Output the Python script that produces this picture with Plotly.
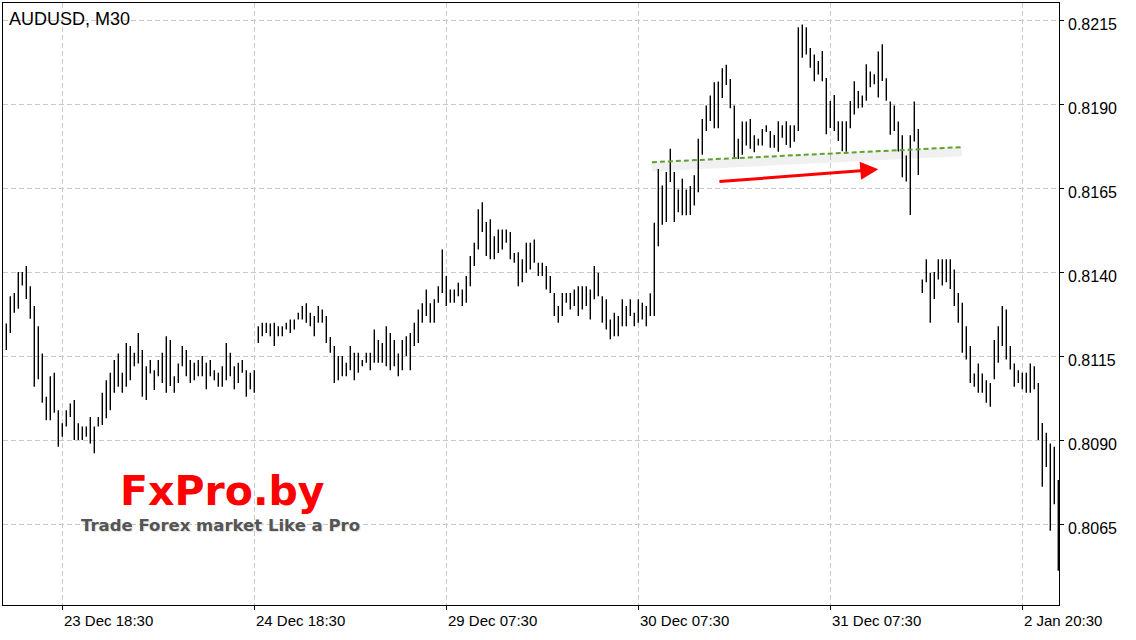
import plotly.graph_objects as go

symbol = "AUDUSD, M30"

high = [
    0.81248, 0.81329, 0.81339, 0.81401, 0.81401, 0.81419, 0.81359, 0.81300, 0.81240, 0.81159, 0.81030, 0.81091,
    0.81101, 0.80990, 0.80951, 0.80990, 0.81010, 0.81020, 0.80951, 0.80941, 0.80941, 0.80970, 0.80941, 0.80970,
    0.81042, 0.81079, 0.81101, 0.81139, 0.81159, 0.81101, 0.81190, 0.81181, 0.81161, 0.81220, 0.81169, 0.81121,
    0.81139, 0.81109, 0.81139, 0.81161, 0.81210, 0.81199, 0.81091, 0.81129, 0.81181, 0.81169, 0.81139, 0.81131,
    0.81139, 0.81151, 0.81131, 0.81139, 0.81109, 0.81101, 0.81121, 0.81190, 0.81161, 0.81121, 0.81131, 0.81139,
    0.81109, 0.81101, 0.81109, 0.81240, 0.81250, 0.81250, 0.81248, 0.81250, 0.81240, 0.81240, 0.81250, 0.81260,
    0.81260, 0.81280, 0.81300, 0.81308, 0.81280, 0.81270, 0.81300, 0.81290, 0.81270, 0.81208, 0.81181, 0.81151,
    0.81151, 0.81131, 0.81181, 0.81161, 0.81161, 0.81139, 0.81161, 0.81161, 0.81230, 0.81199, 0.81190, 0.81240,
    0.81220, 0.81199, 0.81159, 0.81199, 0.81210, 0.81220, 0.81250, 0.81290, 0.81308, 0.81349, 0.81308, 0.81320,
    0.81359, 0.81468, 0.81389, 0.81349, 0.81349, 0.81369, 0.81349, 0.81389, 0.81449, 0.81488, 0.81588, 0.81609,
    0.81550, 0.81558, 0.81508, 0.81528, 0.81528, 0.81528, 0.81520, 0.81458, 0.81460, 0.81439, 0.81488, 0.81488,
    0.81498, 0.81429, 0.81429, 0.81419, 0.81389, 0.81339, 0.81300, 0.81339, 0.81339, 0.81339, 0.81349, 0.81359,
    0.81359, 0.81359, 0.81349, 0.81419, 0.81399, 0.81329, 0.81320, 0.81260, 0.81280, 0.81270, 0.81320, 0.81300,
    0.81320, 0.81280, 0.81320, 0.81310, 0.81300, 0.81338, 0.81548, 0.81708, 0.81659, 0.81699, 0.81768, 0.81699,
    0.81647, 0.81679, 0.81647, 0.81657, 0.81689, 0.81798, 0.81857, 0.81897, 0.81927, 0.81966, 0.81968, 0.82008,
    0.82018, 0.81976, 0.81897, 0.81798, 0.81849, 0.81849, 0.81857, 0.81808, 0.81798, 0.81827, 0.81838, 0.81821,
    0.81809, 0.81850, 0.81838, 0.81850, 0.81838, 0.81838, 0.82130, 0.82138, 0.82130, 0.82068, 0.82049, 0.82029,
    0.82059, 0.81979, 0.81910, 0.81928, 0.81850, 0.81850, 0.81850, 0.81910, 0.81969, 0.81940, 0.81927, 0.82020,
    0.81998, 0.81990, 0.82058, 0.82079, 0.81978, 0.81909, 0.81897, 0.81849, 0.81808, 0.81748, 0.81808, 0.81909,
    0.81827, 0.81379, 0.81439, 0.81399, 0.81401, 0.81439, 0.81439, 0.81439, 0.81439, 0.81409, 0.81339, 0.81310,
    0.81240, 0.81181, 0.81099, 0.81129, 0.81099, 0.81079, 0.81071, 0.81199, 0.81240, 0.81300, 0.81290, 0.81181,
    0.81129, 0.81109, 0.81101, 0.81101, 0.81129, 0.81121, 0.81071, 0.80952, 0.80923, 0.80891, 0.80881, 0.80782,
]

low = [
    0.81169, 0.81220, 0.81280, 0.81292, 0.81361, 0.81321, 0.81262, 0.81060, 0.81082, 0.81012, 0.80960, 0.80960,
    0.80982, 0.80881, 0.80911, 0.80941, 0.80970, 0.80901, 0.80901, 0.80901, 0.80911, 0.80891, 0.80862, 0.80941,
    0.80946, 0.80966, 0.80990, 0.81042, 0.81060, 0.81042, 0.81060, 0.81079, 0.81121, 0.81129, 0.81030, 0.81020,
    0.81099, 0.81050, 0.81091, 0.81071, 0.81042, 0.81062, 0.81042, 0.81071, 0.81121, 0.81091, 0.81071, 0.81079,
    0.81091, 0.81091, 0.81052, 0.81091, 0.81079, 0.81060, 0.81060, 0.81079, 0.81091, 0.81052, 0.81071, 0.81101,
    0.81030, 0.81052, 0.81042, 0.81190, 0.81210, 0.81220, 0.81210, 0.81181, 0.81210, 0.81210, 0.81230, 0.81220,
    0.81230, 0.81260, 0.81260, 0.81250, 0.81240, 0.81210, 0.81250, 0.81250, 0.81190, 0.81161, 0.81071, 0.81079,
    0.81091, 0.81091, 0.81109, 0.81079, 0.81101, 0.81121, 0.81131, 0.81109, 0.81131, 0.81131, 0.81131, 0.81121,
    0.81109, 0.81121, 0.81091, 0.81109, 0.81151, 0.81109, 0.81181, 0.81190, 0.81250, 0.81270, 0.81250, 0.81250,
    0.81310, 0.81339, 0.81300, 0.81310, 0.81310, 0.81329, 0.81300, 0.81310, 0.81359, 0.81419, 0.81468, 0.81520,
    0.81449, 0.81439, 0.81439, 0.81458, 0.81468, 0.81488, 0.81439, 0.81429, 0.81359, 0.81371, 0.81399, 0.81409,
    0.81429, 0.81389, 0.81389, 0.81349, 0.81339, 0.81270, 0.81250, 0.81270, 0.81310, 0.81290, 0.81300, 0.81270,
    0.81290, 0.81300, 0.81260, 0.81320, 0.81329, 0.81250, 0.81230, 0.81201, 0.81210, 0.81210, 0.81240, 0.81240,
    0.81270, 0.81240, 0.81250, 0.81260, 0.81240, 0.81270, 0.81270, 0.81478, 0.81542, 0.81550, 0.81669, 0.81550,
    0.81579, 0.81570, 0.81570, 0.81571, 0.81599, 0.81639, 0.81750, 0.81821, 0.81851, 0.81829, 0.81829, 0.81919,
    0.81958, 0.81889, 0.81740, 0.81738, 0.81750, 0.81778, 0.81768, 0.81758, 0.81778, 0.81778, 0.81818, 0.81771,
    0.81771, 0.81759, 0.81801, 0.81779, 0.81771, 0.81789, 0.81821, 0.82039, 0.82049, 0.82009, 0.81969, 0.81989,
    0.81969, 0.81811, 0.81830, 0.81821, 0.81791, 0.81761, 0.81759, 0.81829, 0.81870, 0.81889, 0.81891, 0.81911,
    0.81951, 0.81960, 0.81921, 0.81970, 0.81911, 0.81810, 0.81821, 0.81760, 0.81683, 0.81671, 0.81571, 0.81790,
    0.81690, 0.81339, 0.81371, 0.81250, 0.81321, 0.81379, 0.81361, 0.81371, 0.81351, 0.81300, 0.81250, 0.81161,
    0.81141, 0.81071, 0.81060, 0.81042, 0.81042, 0.81012, 0.81000, 0.81082, 0.81131, 0.81181, 0.81141, 0.81111,
    0.81060, 0.81071, 0.81052, 0.81042, 0.81042, 0.81052, 0.80901, 0.80762, 0.80821, 0.80631, 0.80710, 0.80512,
]

time_labels = ["23 Dec 18:30", "24 Dec 18:30", "29 Dec 07:30", "30 Dec 07:30", "31 Dec 07:30", "2 Jan 20:30"]
time_label_bars = [14, 62, 110, 158, 206, 254]
price_ticks = [0.8065, 0.8090, 0.8115, 0.8140, 0.8165, 0.8190, 0.8215]

trend_bars = [161.4, 238.9]
trend_prices = [0.81728, 0.81773]
arrow_bars = [177.9, 218.0]
arrow_prices = [0.81670, 0.81707]

logo_text = "FxPro.by"
logo_tagline = "Trade Forex market Like a Pro"

n = len(high)
xs, ys = [], []
for i in range(n):
    xs += [i, i, None]
    ys += [low[i], high[i], None]

fig = go.Figure()

# trend line shadow + trend line
fig.add_trace(go.Scatter(
    x=trend_bars, y=[p - 0.00014 for p in trend_prices], mode="lines",
    line=dict(color="rgba(0,0,0,0.06)", width=9), hoverinfo="skip", showlegend=False))
fig.add_trace(go.Scatter(
    x=xs, y=ys, mode="lines", line=dict(color="black", width=1.4),
    hoverinfo="skip", showlegend=False))
fig.add_trace(go.Scatter(
    x=trend_bars, y=trend_prices, mode="lines",
    line=dict(color="#5fa030", width=2, dash="5px,3px"), hoverinfo="skip", showlegend=False))

annotations = []
# red arrow
annotations.append(dict(
    x=arrow_bars[1], y=arrow_prices[1], ax=arrow_bars[0], ay=arrow_prices[0],
    xref="x", yref="y", axref="x", ayref="y", text="", showarrow=True,
    arrowhead=2, arrowsize=1.2, arrowwidth=3, arrowcolor="#ff0000"))

axis_font = dict(family="Liberation Sans, Arial", size=15, color="black")
price_font = dict(family="Liberation Sans, Arial", size=16, color="black")
# time labels
for b, t in zip(time_label_bars, time_labels):
    annotations.append(dict(x=b, y=0, xref="x", yref="paper", text=t, showarrow=False,
                            xanchor="left", yanchor="top", xshift=0, yshift=-5, font=axis_font))
# price labels
for p in price_ticks:
    annotations.append(dict(x=1, y=p, xref="paper", yref="y", text=f"{p:.4f}", showarrow=False,
                            xanchor="left", yanchor="middle", xshift=7, yshift=-4, font=price_font))
# title
annotations.append(dict(x=0.004, y=0.974, xref="paper", yref="paper", text=symbol, showarrow=False,
                        xanchor="left", yanchor="middle",
                        font=dict(family="Liberation Sans, Arial", size=18, color="black")))
# logo
annotations.append(dict(x=0.2080, y=0.1890, xref="paper", yref="paper", text=logo_text, showarrow=False,
                        xanchor="center", yanchor="middle",
                        font=dict(family="DejaVu Sans", size=41, color="#ff0000", weight="bold")))
annotations.append(dict(x=0.2064, y=0.1325, xref="paper", yref="paper", text=logo_tagline, showarrow=False,
                        xanchor="center", yanchor="middle",
                        font=dict(family="DejaVu Sans", size=16.5, color="#555555", weight="bold",
                                  shadow="1px 1px 1px #dddddd")))

grid = dict(gridcolor="#c8c8c8", gridwidth=1, griddash="5px,3px", showgrid=True, zeroline=False)

fig.update_layout(
    width=1136, height=640,
    margin=dict(l=3, r=77, t=3, b=35),
    paper_bgcolor="white", plot_bgcolor="white",
    showlegend=False,
    annotations=annotations,
    xaxis=dict(range=[-0.825, 263.175], tickmode="array", tickvals=time_label_bars,
               showticklabels=False, ticks="outside", ticklen=4, tickcolor="black",
               showline=True, linecolor="black", linewidth=1, mirror=True, **grid),
    yaxis=dict(range=[0.80410, 0.82202], side="right", tickmode="array", tickvals=price_ticks,
               showticklabels=False, ticks="outside", ticklen=4, tickcolor="black",
               showline=True, linecolor="black", linewidth=1, mirror=True, **grid),
)

fig.write_html("out.html", config={"displayModeBar": False},
               post_script="document.body.style.margin='0';document.body.style.padding='0';")
